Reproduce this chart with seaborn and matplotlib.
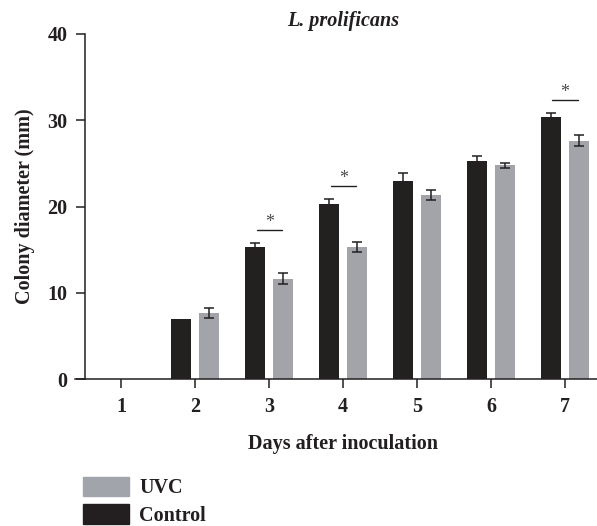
import numpy as np
import pandas as pd
import matplotlib
matplotlib.use('Agg')
import matplotlib.pyplot as plt
import seaborn as sns
from matplotlib.patches import Patch

# valores (mm)
dias = ['1', '2', '3', '4', '5', '6', '7']
controle = [0, 7.0, 15.3, 20.35, 23.0, 25.33, 30.36]
controle_err = [0, 0, 0.53, 0.54, 0.93, 0.58, 0.52]
uvc = [0, 7.65, 11.66, 15.33, 21.35, 24.8, 27.65]
uvc_err = [0, 0.6, 0.6, 0.6, 0.6, 0.3, 0.6]
dias_signif = ['3', '4', '7']

cor_escura = '#231f20'
cor_uvc = '#a1a4aa'

sns.set_style('ticks')
plt.rcParams['font.family'] = ['Liberation Serif', 'DejaVu Serif']
plt.rcParams['font.weight'] = 'bold'
plt.rcParams['text.color'] = cor_escura
plt.rcParams['axes.labelcolor'] = cor_escura

df = pd.DataFrame({
    'dia': dias * 2,
    'diametro': controle + uvc,
    'grupo': ['Control'] * len(dias) + ['UVC'] * len(dias),
})

fig = plt.figure(figsize=(5.97, 5.26), dpi=100)
ax = fig.add_axes([0.1261, 0.2789, 0.8739, 0.6565])

sns.barplot(data=df, x='dia', y='diametro', hue='grupo',
            palette={'Control': cor_escura, 'UVC': cor_uvc},
            width=0.76, gap=0.3, errorbar=None, legend=False,
            linewidth=0, ax=ax)

# barras de erro (desvio) em cima de cada barra
for barras, erros in zip(ax.containers, [controle_err, uvc_err]):
    for barra, e in zip(barras, erros):
        if e > 0:
            x = barra.get_x() + barra.get_width() / 2
            ax.errorbar(x, barra.get_height(), yerr=e, color=cor_escura,
                        capsize=3.6, elinewidth=1.1, capthick=1.1)

# marcação de diferença significativa
for d in dias_signif:
    i = dias.index(d)
    topo = controle[i] + controle_err[i] + 1.45
    ax.plot([i - 0.17, i + 0.17], [topo, topo], color=cor_escura, lw=1)
    ax.text(i, topo - 0.05, '*', ha='center', va='bottom', fontsize=13,
            fontweight='normal', color='#4a4a4a')

ax.set_ylim(0, 40)
ax.set_yticks([0, 10, 20, 30, 40])
ax.set_xlim(-0.622, 6.433)
ax.spines['left'].set_position(('data', -0.495))
for lado in ['top', 'right']:
    ax.spines[lado].set_visible(False)
for lado in ['left', 'bottom']:
    ax.spines[lado].set_color(cor_escura)
    ax.spines[lado].set_linewidth(1.1)

ax.tick_params(direction='out', length=6.5, width=1.1, labelsize=14.5,
               colors=cor_escura, pad=6)

# título centrado sobre a área a partir do eixo y
ax.set_title('L. prolificans', fontstyle='italic', fontweight='bold',
             fontsize=14.5, pad=6, x=0.513)
ax.set_xlabel('Days after inoculation', fontsize=14.5, fontweight='bold')
ax.xaxis.set_label_coords(0.513, -0.157)
ax.set_ylabel('Colony diameter (mm)', fontsize=14.5, fontweight='bold',
              labelpad=9)

fig.legend(handles=[Patch(color=cor_uvc, label='UVC'),
                    Patch(color=cor_escura, label='Control')],
           loc='upper left', bbox_to_anchor=(0.1385, 0.0937),
           frameon=False, borderpad=0, borderaxespad=0,
           handlelength=2.3, handleheight=1.1, handletextpad=0.5,
           labelspacing=0.3, fontsize=14.5)

fig.savefig('out.png', dpi=100)
